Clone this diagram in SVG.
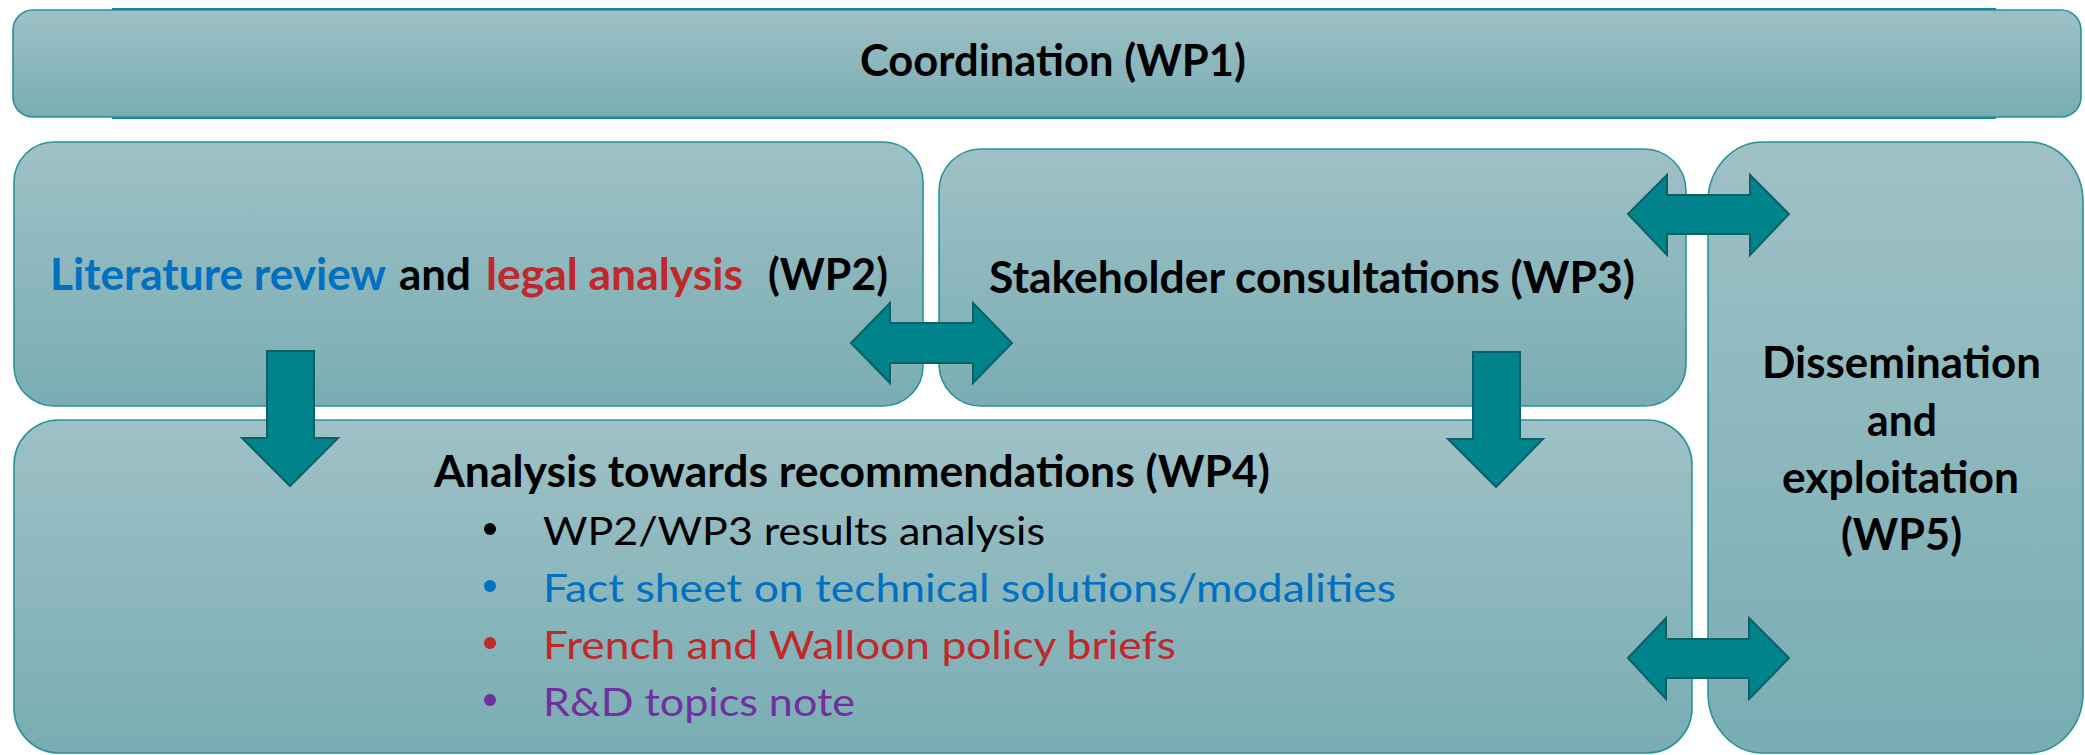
<svg xmlns="http://www.w3.org/2000/svg" width="2085" height="755" viewBox="0 0 2085 755">
<defs>
<linearGradient id="boxg" x1="0" y1="0" x2="0" y2="1">
<stop offset="0" stop-color="#9EC1C6"/>
<stop offset="1" stop-color="#79ADB3"/>
</linearGradient>
<style>
.box{fill:url(#boxg);stroke:#2A9399;stroke-width:1.6}
.arr{fill:#00838B;stroke:#0B6068;stroke-width:2;stroke-linejoin:miter}
.h{font-family:Lato,"Open Sans","Liberation Sans",sans-serif;font-weight:bold;font-size:43px;fill:#000}
.b{font-family:Lato,"Open Sans","Liberation Sans",sans-serif;font-size:38px}
.blue{fill:#0070C0}
.red{fill:#C0282A}
.purple{fill:#7030A0}
.blk{fill:#000}
</style>
</defs>
<rect width="2085" height="755" fill="#fff"/>
<g id="wp1">
<rect x="113" y="9" width="1882" height="109" fill="#7FAFB5" stroke="#15848C" stroke-width="2"/>
<rect class="box" x="13" y="10" width="2068" height="107" rx="20"/>
<text class="h" x="860" y="76" textLength="386" lengthAdjust="spacingAndGlyphs">Coordination (WP1)</text>
</g>
<g id="wp2">
<rect class="box" x="14" y="142" width="909" height="264" rx="40"/>
<text class="h blue" x="50" y="290" textLength="336" lengthAdjust="spacingAndGlyphs">Literature review</text>
<text class="h" x="399" y="290" textLength="72" lengthAdjust="spacingAndGlyphs">and</text>
<text class="h red" x="486" y="290" textLength="257" lengthAdjust="spacingAndGlyphs">legal analysis</text>
<text class="h" x="768" y="290" textLength="120" lengthAdjust="spacingAndGlyphs">(WP2)</text>
</g>
<g id="wp3">
<rect class="box" x="939" y="149" width="747" height="257" rx="42"/>
<text class="h" x="989" y="293" textLength="646" lengthAdjust="spacingAndGlyphs">Stakeholder consultations (WP3)</text>
</g>
<g id="wp5">
<rect class="box" x="1708" y="142" width="375" height="611" rx="55" ry="60"/>
<text class="h" x="1762" y="378" textLength="279" lengthAdjust="spacingAndGlyphs">Dissemination</text>
<text class="h" x="1867" y="436" textLength="70" lengthAdjust="spacingAndGlyphs">and</text>
<text class="h" x="1782" y="493" textLength="237" lengthAdjust="spacingAndGlyphs">exploitation</text>
<text class="h" x="1841" y="550" textLength="121" lengthAdjust="spacingAndGlyphs">(WP5)</text>
</g>
<g id="wp4">
<rect class="box" x="14" y="420" width="1678" height="333" rx="45"/>
<text class="h" x="434" y="487" textLength="836" lengthAdjust="spacingAndGlyphs">Analysis towards recommendations (WP4)</text>
<circle cx="490" cy="529" r="6" class="blk"/>
<text class="b blk" x="543" y="545" textLength="502" lengthAdjust="spacingAndGlyphs">WP2/WP3 results analysis</text>
<circle cx="490" cy="586" r="6" class="blue"/>
<text class="b blue" x="543" y="602" textLength="853" lengthAdjust="spacingAndGlyphs">Fact sheet on technical solutions/modalities</text>
<circle cx="490" cy="643" r="6" class="red"/>
<text class="b red" x="543" y="659" textLength="633" lengthAdjust="spacingAndGlyphs">French and Walloon policy briefs</text>
<circle cx="490" cy="700" r="6" class="purple"/>
<text class="b purple" x="543" y="716" textLength="312" lengthAdjust="spacingAndGlyphs">R&amp;D topics note</text>
</g>
<g id="connectors">
<path class="arr" d="M267,351 L314,351 L314,438 L338,438 L290,486 L242,438 L267,438 Z"/>
<path class="arr" d="M1473,352 L1520,352 L1520,439 L1543,439 L1496,487 L1448,439 L1473,439 Z"/>
<path class="arr" d="M851,343 L890,303 L890,323 L973,323 L973,303 L1012,343 L973,383 L973,363 L890,363 L890,383 Z"/>
<path class="arr" d="M1628,214 L1667,175 L1667,195 L1750,195 L1750,175 L1789,214 L1750,255 L1750,234 L1667,234 L1667,255 Z"/>
<path class="arr" d="M1628,658 L1666,618 L1666,639 L1749,639 L1749,618 L1789,658 L1749,699 L1749,678 L1666,678 L1666,699 Z"/>
</g>
</svg>
